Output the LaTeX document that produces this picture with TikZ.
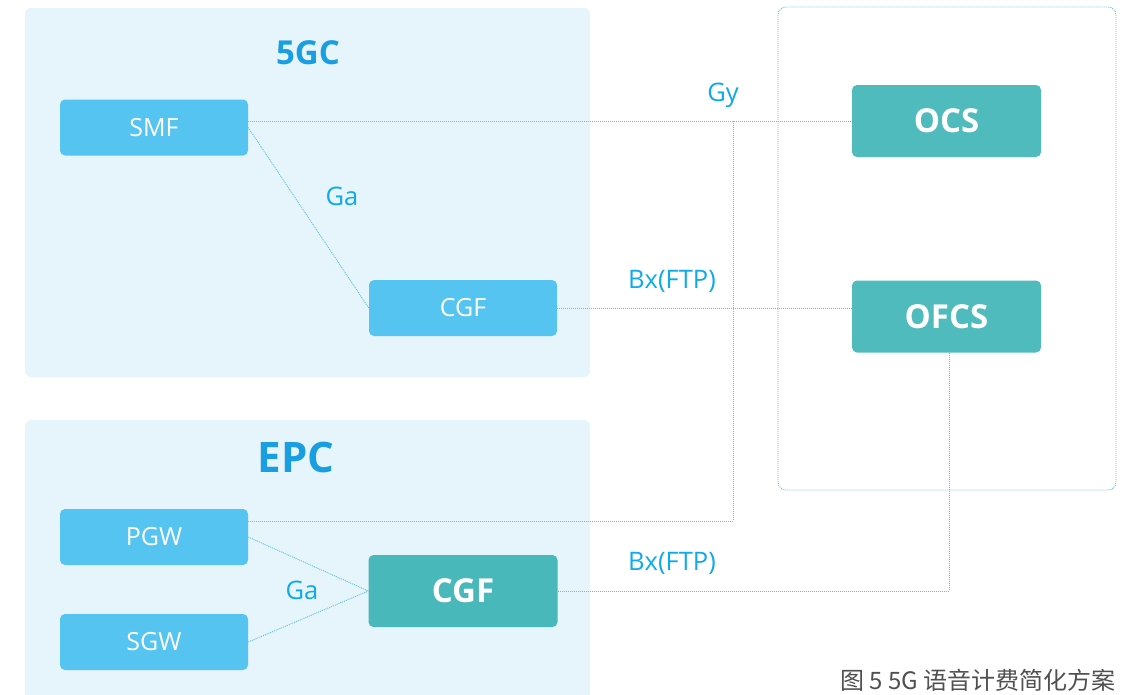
\documentclass[tikz,border=0pt]{standalone}
\usepackage{fontspec}
\setmainfont{Open Sans}
\newfontfamily\cjk{Noto Sans CJK SC}
\usetikzlibrary{calc}
\definecolor{regionfill}{HTML}{E6F4FC}
\definecolor{nfblue}{HTML}{56C4F1}
\definecolor{nfteal}{HTML}{4FBBBD}
\definecolor{nftealb}{HTML}{48B8BB}
\definecolor{lbl}{HTML}{0EAAEA}
\definecolor{ttl}{HTML}{1A9EE2}
\definecolor{lnk}{HTML}{5BC3E0}
\definecolor{capt}{HTML}{505050}
\tikzset{
  region/.style={fill=regionfill, draw=none, rounded corners=6pt},
  nfbox/.style={fill=nfblue, draw=none, rounded corners=5pt, text=white,
    minimum width=188pt, minimum height=56pt, inner sep=0pt, font=\fontsize{25}{28}\selectfont},
  tealbox/.style={fill=nfteal, draw=none, rounded corners=5pt, text=white,
    minimum width=189pt, minimum height=72pt, inner sep=0pt, font=\bfseries\fontsize{33}{36}\selectfont},
  iflabel/.style={text=lbl, inner sep=0pt, font=\fontsize{25.5}{28}\selectfont},
  title/.style={text=ttl, inner sep=0pt, font=\bfseries\fontsize{33}{36}\selectfont},
  link/.style={draw=lnk, line width=0.9pt, dash pattern=on 1pt off 1pt},
}
\begin{document}
\begin{tikzpicture}[x=1pt,y=-1pt]
\useasboundingbox (0,0) rectangle (1135,694);
% regions
\fill[region] (25,8) rectangle (590,377);
\fill[region] (25,420) rectangle (590,700);
\draw[link, rounded corners=8pt] (778,7) rectangle (1116,490);
% titles
\node[title] (t5gc) at (308,53) {5GC};
\node[title, font=\bfseries\fontsize{42}{46}\selectfont] (tepc) at (296,457) {EPC};
% network functions
\node[nfbox] (smf) at (154,127.5) {SMF};
\node[nfbox] (cgf5) at (463,308) {CGF};
\node[nfbox] (pgw) at (154,537) {PGW};
\node[nfbox] (sgw) at (154,642) {SGW};
\node[tealbox, fill=nftealb] (cgfe) at (463,591) {CGF};
\node[tealbox] (ocs) at (946.5,121) {OCS};
\node[tealbox] (ofcs) at (946.5,316.5) {OFCS};
% junction points
\coordinate (jy) at (733,121);
\coordinate (jb) at (733,521);
\coordinate (jo) at (949,591);
% connectors
\draw[link] (smf.east |- ocs.west) -- (ocs.west);
\draw[link] (jy) -- (jb) -- (jb -| pgw.east);
\draw[link] (smf.east) -- (cgf5.west);
\draw[link] (cgf5.east) -- (cgf5.east -| ofcs.west);
\draw[link] (pgw.east) -- (cgfe.west);
\draw[link] (sgw.east) -- (cgfe.west);
\draw[link] (cgfe.east) -- (jo) -- (jo |- ofcs.south);
% interface labels
\node[iflabel] (lgy) at (723,95) {Gy};
\node[iflabel] (lga1) at (342,196) {Ga};
\node[iflabel] (lbx1) at (672,281) {Bx(FTP)};
\node[iflabel] (lga2) at (302,590) {Ga};
\node[iflabel] (lbx2) at (672,563) {Bx(FTP)};
% caption
\node[anchor=base east, inner sep=0pt, text=capt, font=\cjk\fontsize{24}{27}\selectfont] (cap) at (1116,689) {图 5 5G 语音计费简化方案};
\end{tikzpicture}
\end{document}
